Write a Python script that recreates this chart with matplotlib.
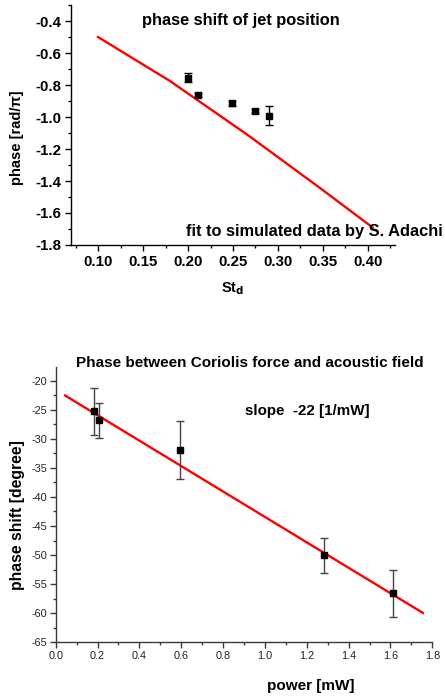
import matplotlib
matplotlib.use("Agg")
import matplotlib.pyplot as plt
from matplotlib.ticker import MultipleLocator

plt.rcParams['font.family'] = ['Liberation Sans', 'DejaVu Sans']
plt.rcParams['axes.unicode_minus'] = False

# ---- top panel data ----
st_d = [0.200, 0.211, 0.249, 0.275, 0.290]
phase = [-0.754, -0.862, -0.914, -0.962, -0.992]
phase_err = [0.030, 0.010, 0.015, 0.015, 0.060]
fit_x = [0.10, 0.18, 0.267, 0.347, 0.405]
fit_y = [-0.50, -0.775, -1.115, -1.445, -1.69]

# ---- bottom panel data ----
power = [0.185, 0.207, 0.594, 1.284, 1.611]
shift = [-25.3, -26.8, -32.0, -50.0, -56.6]
shift_err = [4.0, 3.0, 5.0, 3.0, 4.0]
line_x = [0.045, 1.755]
line_y = [-22.55, -59.95]

fig = plt.figure(figsize=(4.45, 6.97), dpi=100)

# ================= top panel =================
ax1 = fig.add_axes([0.1596, 0.6485, 0.728, 0.3443])
ax1.plot(fit_x, fit_y, color='#ff0000', lw=1.7, zorder=2)
ax1.errorbar(st_d, phase, yerr=phase_err, fmt='s', color='black', ms=5,
             ecolor='black', elinewidth=1.0, capsize=3, capthick=1.0, zorder=3)
ax1.set_xlim(0.07, 0.43)
ax1.set_ylim(-1.8, -0.3)
ax1.xaxis.set_minor_locator(MultipleLocator(0.025))
ax1.yaxis.set_minor_locator(MultipleLocator(0.1))
ax1.set_yticks([-1.8, -1.6, -1.4, -1.2, -1.0, -0.8, -0.6, -0.4])
ax1.set_xticks([0.10, 0.15, 0.20, 0.25, 0.30, 0.35, 0.40])
ax1.set_xticklabels(['0.10', '0.15', '0.20', '0.25', '0.30', '0.35', '0.40'])
ax1.set_yticklabels(['-1.8', '-1.6', '-1.4', '-1.2', '-1.0', '-0.8', '-0.6', '-0.4'])
for s in ['top', 'right']:
    ax1.spines[s].set_visible(False)
for s in ['left', 'bottom']:
    ax1.spines[s].set_linewidth(1.0)
ax1.tick_params(which='major', direction='out', length=4, width=1.0,
                labelsize=10.8, pad=3)
ax1.tick_params(which='minor', direction='out', length=2.5, width=1.0)
for lab in ax1.get_xticklabels() + ax1.get_yticklabels():
    lab.set_fontweight('bold')
fig.text(17 / 445, 1 - 138 / 697, 'phase [rad/π]', rotation=90,
         ha='center', va='center', fontsize=10.5, fontweight='bold')
ax1.set_xlabel('St$_\\mathbf{d}$', fontsize=10.5, fontweight='bold', labelpad=8)
fig.text(241 / 445, 1 - 21 / 697, 'phase shift of jet position',
         ha='center', va='center', fontsize=11.8, fontweight='bold')
fig.text(443 / 445, 1 - 232 / 697, 'fit to simulated data by S. Adachi',
         ha='right', va='center', fontsize=11.8, fontweight='bold')

# ================= bottom panel =================
gray = '#3a3a3a'
ax2 = fig.add_axes([0.1251, 0.0785, 0.8464, 0.3954])
ax2.plot(line_x, line_y, color='#ff0000', lw=1.7, zorder=2)
ax2.errorbar(power, shift, yerr=shift_err, fmt='s', color='black', ms=4.5,
             ecolor='#444444', elinewidth=1.0, capsize=3, capthick=1.0, zorder=3)
ax2.set_xlim(0.0, 1.8)
ax2.set_ylim(-65, -17.6)
ax2.xaxis.set_major_locator(MultipleLocator(0.2))
ax2.xaxis.set_minor_locator(MultipleLocator(0.1))
ax2.set_yticks([-65, -60, -55, -50, -45, -40, -35, -30, -25, -20])
ax2.yaxis.set_minor_locator(MultipleLocator(2.5))
for s in ['top', 'right']:
    ax2.spines[s].set_visible(False)
for s in ['left', 'bottom']:
    ax2.spines[s].set_color(gray)
    ax2.spines[s].set_linewidth(1.0)
ax2.tick_params(which='major', direction='out', length=4, width=1.0,
                labelsize=7.8, colors=gray, labelcolor='#222222', pad=2)
ax2.tick_params(which='minor', direction='out', length=2.5, width=1.0, colors=gray)
fig.text(18 / 445, 1 - 515 / 697, 'phase shift [degree]', rotation=90,
         ha='center', va='center', fontsize=11.3, fontweight='bold')
fig.text(311 / 445, 1 - 686 / 697, 'power [mW]', ha='center', va='center',
         fontsize=11, fontweight='bold')
fig.text(250 / 445, 1 - 363 / 697, 'Phase between Coriolis force and acoustic field',
         ha='center', va='center', fontsize=11, fontweight='bold')
fig.text(307 / 445, 1 - 411 / 697, 'slope  -22 [1/mW]',
         ha='center', va='center', fontsize=10.9, fontweight='bold')

fig.savefig('out.png', dpi=100)
